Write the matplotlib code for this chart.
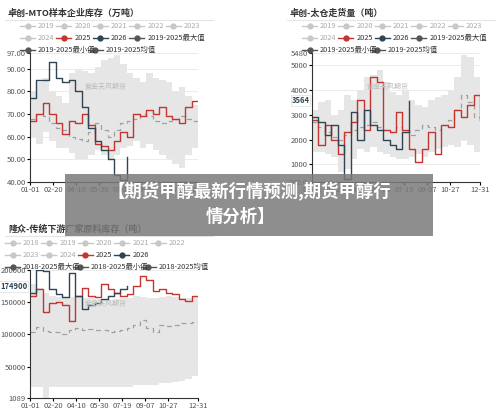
import numpy as np
import matplotlib
matplotlib.use("Agg")
import matplotlib.pyplot as plt
from matplotlib.lines import Line2D
from matplotlib.patches import Rectangle

plt.rcParams['font.family'] = ['Noto Sans CJK SC', 'DejaVu Sans']

tick_days = [0, 50, 100, 150, 200, 250, 300, 364]
tick_labels = ['01-01', '02-20', '04-10', '05-30', '07-19', '09-07', '10-27', '12-31']

# Panel 1: MTO inventory (万吨)
mto_2025 = [67, 70, 75, 70, 66, 61, 67, 66, 70, 65, 57, 56, 54, 58, 62, 60, 70, 69, 72, 70, 73, 69, 68, 66, 73, 76, 76]
mto_2026 = [77, 85, 85, 93, 86, 84, 85, 80, 73, 64, 58, 54, 50, 43, 41, 51]
mto_mean = [68, 70, 69, 66, 64, 63, 60, 59, 58, 62, 66, 63, 60, 63, 66, 67, 68, 70, 69, 67, 66, 67, 68, 69, 68, 67, 66]
mto_max = [80, 84, 86, 80, 78, 75, 88, 90, 89, 88, 91, 94, 95, 96, 92, 88, 86, 84, 88, 86, 85, 84, 80, 82, 78, 74, 82]
mto_min = [60, 57, 62, 58, 55, 55, 53, 50, 50, 52, 54, 52, 50, 52, 55, 56, 58, 55, 57, 54, 52, 50, 48, 46, 52, 55, 58]

# Panel 2: Taicang shipments (吨)
tc_2025 = [2800, 1800, 2600, 2000, 1400, 2300, 2700, 3600, 2400, 4500, 4300, 2400, 2300, 3100, 2400, 1600, 1100, 1600, 2300, 1400, 2600, 2500, 3200, 2900, 3400, 3800, 2800]
tc_2026 = [2900, 2700, 2200, 2600, 1800, 400, 3100, 2000, 3200, 2600, 2400, 2000, 1800, 1600, 2300, 3564]
tc_mean = [2700, 2500, 2300, 2100, 2000, 2200, 2400, 2500, 2600, 2700, 2500, 2400, 2300, 2500, 2300, 2200, 2400, 2600, 2500, 2400, 2600, 2800, 3200, 3800, 3500, 2900, 2700]
tc_max = [3200, 3500, 3600, 3000, 3200, 3800, 3600, 4000, 4500, 4600, 4800, 4300, 3900, 3800, 4000, 3600, 3400, 3300, 3600, 3700, 3800, 4000, 4500, 5400, 5300, 4500, 3800]
tc_min = [1500, 1500, 1400, 1300, 700, 800, 1200, 1600, 1500, 1700, 1500, 1400, 1300, 1200, 1200, 1300, 1400, 1300, 1500, 1600, 1700, 1800, 1700, 2000, 1800, 1500, 1900]

# Panel 3: Longzhong downstream raw material inventory (吨)
lz_2025 = [160000, 170000, 135000, 148000, 150000, 145000, 120000, 160000, 172000, 160000, 158000, 178000, 170000, 165000, 160000, 162000, 175000, 190000, 185000, 168000, 170000, 165000, 163000, 155000, 152000, 160000, 160000]
lz_2026 = [165000, 200000, 198000, 170000, 162000, 158000, 195000, 160000, 140000, 145000, 148000, 155000, 160000, 165000, 170000, 174900]
lz_mean = [103000, 112000, 105000, 104000, 103000, 100000, 106000, 110000, 106000, 108000, 107000, 106000, 104000, 105000, 106000, 110000, 115000, 122000, 110000, 103000, 115000, 113000, 115000, 117000, 118000, 119000, 122000]
lz_max = [178000, 172000, 165000, 160000, 158000, 156000, 158000, 160000, 157000, 156000, 155000, 155000, 154000, 155000, 156000, 157000, 160000, 158000, 157000, 156000, 158000, 160000, 158000, 157000, 156000, 158000, 158000]
lz_min = [18000, 18000, 1089, 18000, 18000, 18000, 18000, 18000, 18000, 18000, 18000, 18000, 18000, 18000, 18000, 18000, 22000, 22000, 21000, 22000, 24000, 25000, 26000, 27000, 30000, 36000, 28000]

RED = '#c23531'
NAVY = '#2f4554'
LG = '#c8c8c8'

fig = plt.figure(figsize=(5, 4.12), dpi=100)
W, H = 500, 412

def ax_px(x0, y0, x1, y1):
    return fig.add_axes([x0 / W, 1 - y1 / H, (x1 - x0) / W, (y1 - y0) / H])

def legend_rows(rows, x0, y0, dy):
    for r, row in enumerate(rows):
        x = x0
        for lab, col in row:
            y = y0 + r * dy
            fig.add_artist(Line2D([x / W, (x + 15) / W], [1 - y / H] * 2, color=col, lw=1))
            fig.add_artist(Line2D([(x + 7.5) / W], [1 - y / H], color=col, marker='o', ms=3.5))
            fig.text((x + 18) / W, 1 - y / H, lab, fontsize=5.3, color='#aaaaaa' if col == LG else '#333333', va='center')
            n_cjk = sum(1 for c in lab if ord(c) > 255)
            x += 24 + (len(lab) - n_cjk) * 3.1 + n_cjk * 5.3

def panel(ax, s25, s26, mean, mx, mn, ylim, yticks, ylabels, marker_val, mlabel):
    d = np.minimum(np.arange(len(s25)) * 14, 364)
    ax.fill_between(d, mn, mx, step='post', color='#e6e6e6', lw=0)
    ax.plot(d, mean, color='#a0a0a0', ls=(0, (4, 3)), lw=0.9, drawstyle='steps-post')
    ax.plot(d, s25, color=RED, lw=1, drawstyle='steps-post')
    d2 = np.arange(len(s26)) * 14
    ax.plot(d2, s26, color=NAVY, lw=1, drawstyle='steps-post')
    ax.set_xlim(0, 364)
    ax.set_ylim(*ylim)
    ax.set_yticks(yticks)
    ax.set_yticklabels(ylabels, fontsize=5.5, color='#555555')
    ax.set_xticks(tick_days)
    ax.set_xticklabels(tick_labels, fontsize=5.5, color='#555555')
    ax.grid(axis='y', color='#e8e8e8', lw=0.6)
    for s in ['top', 'right']:
        ax.spines[s].set_visible(False)
    for s in ['left', 'bottom']:
        ax.spines[s].set_color('#333333')
        ax.spines[s].set_linewidth(0.8)
    ax.tick_params(length=2, pad=1)
    ax.text(0.45, 0.72, '紫金天风期货', transform=ax.transAxes, fontsize=5, color='#bbbbbb', ha='center')
    if mlabel:
        ax.text(-0.015, marker_val, mlabel, transform=ax.get_yaxis_transform(), ha='right', va='center',
                fontsize=5.5, fontweight='bold', color=NAVY,
                bbox=dict(boxstyle='square,pad=0.12', fc='white', ec='#dddddd', lw=0.5))

# Panel 1
ax1 = ax_px(30, 53, 198, 182)
panel(ax1, mto_2025, mto_2026, mto_mean, mto_max, mto_min, (40, 97),
      [40, 50, 60, 70, 80, 90, 97], ['40.00', '50.00', '60.00', '70.00', '80.00', '90.00', '97.00'], None, None)
fig.text(8 / W, 1 - 13 / H, '卓创-MTO样本企业库存（万吨）', fontsize=6.5, fontweight='bold', color='#333333', va='center')
fig.add_artist(Line2D([5 / W, 213 / W], [1 - 20 / H] * 2, color='#e5e5e5', lw=0.8))
legend_rows([[('2019', LG), ('2020', LG), ('2021', LG), ('2022', LG), ('2023', LG)],
             [('2024', LG), ('2025', RED), ('2026', NAVY), ('2019-2025最大值', '#555555')],
             [('2019-2025最小值', '#555555'), ('2019-2025均值', '#555555')]], 20, 26, 12)

# Panel 2
ax2 = ax_px(312, 53, 480, 182)
panel(ax2, tc_2025, tc_2026, tc_mean, tc_max, tc_min, (292, 5480),
      [292, 1000, 2000, 3000, 4000, 5000, 5480], ['292.0', '1000', '2000', '3000', '4000', '5000', '5480'], 3564, '3564')
fig.text(290 / W, 1 - 13 / H, '卓创-太仓走货量（吨）', fontsize=6.5, fontweight='bold', color='#333333', va='center')
fig.add_artist(Line2D([287 / W, 495 / W], [1 - 20 / H] * 2, color='#e5e5e5', lw=0.8))
legend_rows([[('2019', LG), ('2020', LG), ('2021', LG), ('2022', LG), ('2023', LG)],
             [('2024', LG), ('2025', RED), ('2026', NAVY), ('2019-2025最大值', '#555555')],
             [('2019-2025最小值', '#555555'), ('2019-2025均值', '#555555')]], 302, 26, 12)

# Panel 3
ax3 = ax_px(30, 270, 198, 398)
panel(ax3, lz_2025, lz_2026, lz_mean, lz_max, lz_min, (1089, 200000),
      [1089, 50000, 100000, 150000, 200000], ['1089', '50000', '100000', '150000', '200000'], 174900, '174900')
fig.text(8 / W, 1 - 229 / H, '隆众-传统下游厂家原料库存（吨）', fontsize=6.5, fontweight='bold', color='#333333', va='center')
fig.add_artist(Line2D([5 / W, 213 / W], [1 - 236 / H] * 2, color='#e5e5e5', lw=0.8))
legend_rows([[('2018', LG), ('2019', LG), ('2020', LG), ('2021', LG), ('2022', LG)],
             [('2023', LG), ('2024', LG), ('2025', RED), ('2026', NAVY)],
             [('2018-2025最大值', '#555555'), ('2018-2025最小值', '#555555'), ('2018-2025均值', '#555555')]], 5, 243, 12)

# Banner overlay
fig.add_artist(Rectangle((65 / W, 1 - 236 / H), (433 - 65) / W, 62 / H, transform=fig.transFigure,
                         fc='#7a7a7a', alpha=0.85, ec='none', zorder=10))
fig.text(249 / W, 1 - 191 / H, '【期货甲醇最新行情预测,期货甲醇行', fontsize=12.5, fontweight='bold',
         color='white', ha='center', va='center', zorder=11)
fig.text(240 / W, 1 - 217 / H, '情分析】', fontsize=12.5, fontweight='bold',
         color='white', ha='center', va='center', zorder=11)

fig.savefig('out.png', dpi=100)
